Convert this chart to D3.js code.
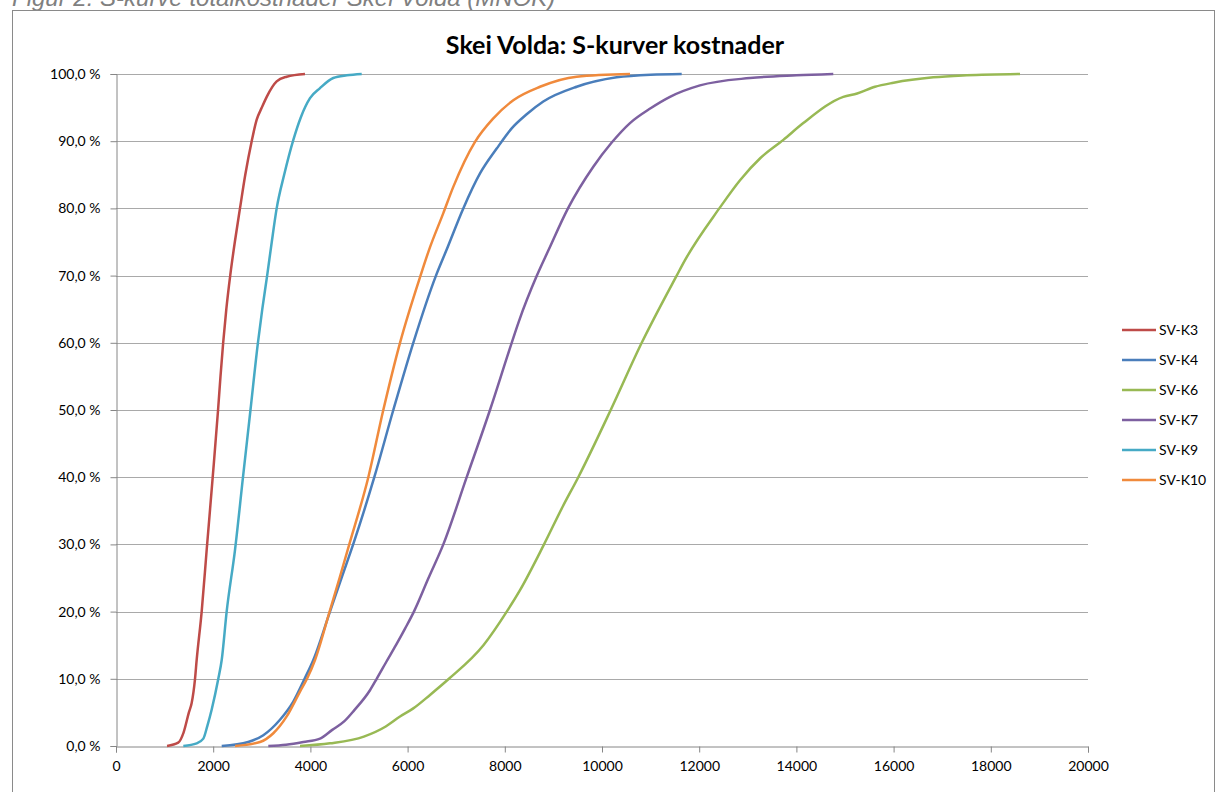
<!DOCTYPE html>
<html>
<head>
<meta charset="utf-8">
<script src="https://cdn.jsdelivr.net/npm/d3@7"></script>
<style>
  body { margin: 0; background: #fff; }
  svg { display: block; }
</style>
</head>
<body>
<svg id="chart" width="1217" height="792"></svg>
<script>
// S-kurver: kostnad (MNOK) mot kumulativ sannsynlighet (%)
var seriesNames = ["SV-K3", "SV-K4", "SV-K6", "SV-K7", "SV-K9", "SV-K10"];
var seriesColors = ["#BE4B48", "#4A7EBB", "#98B954", "#7D60A0", "#46AAC5", "#F08A3C"];

var svK3 = [[1050,0],[1280,0.5],[1390,2],[1500,5],[1557,6.4],[1626,10],[1660,12.8],[1763,20],[1866,29.2],
  [1990,40],[2100,50],[2150,55],[2205,60],[2270,65],[2350,70],[2445,75],[2551,80],[2660,85],[2792,90],
  [2895,93.2],[3000,95],[3101,96.6],[3306,98.9],[3512,99.6],[3889,100]];
var svK4 = [[2175,0],[2720,0.6],[3031,1.6],[3374,3.9],[3648,6.6],[3880,10],[4060,12.8],[4403,20],[4640,25],
  [4880,30],[5315,40],[5706,50],[6117,60],[6584,70],[6800,73.8],[7146,80],[7490,85.2],[7833,88.9],[8142,91.9],
  [8450,94],[8792,95.9],[9479,98.1],[10302,99.5],[11000,99.9],[11640,100]];
var svK6 = [[3786,0],[4403,0.4],[5100,1.4],[5550,2.9],[5844,4.4],[6117,5.6],[6461,7.6],[6850,10],[7560,15],
  [8040,20],[8313,23.2],[8807,30],[9190,35.6],[9512,40],[10179,50],[10817,60],[11537,70],[11708,72.3],
  [12414,80],[12840,84.2],[13260,87.5],[13731,90.2],[14142,92.7],[14965,96.6],[15250,97.1],[15617,98.1],
  [16000,98.7],[16817,99.5],[17500,99.8],[18601,100]];
var svK7 = [[3134,0],[3500,0.2],[3854,0.6],[4198,1.1],[4450,2.4],[4700,3.7],[4900,5.3],[5226,8.3],[5364,10],
  [5560,12.5],[5760,15],[5950,17.5],[6130,20],[6430,25],[6735,30],[7216,40],[7695,50],[8142,60],
  [8290,63.2],[8660,70],[8900,73.8],[9300,80],[9821,86.2],[10200,89.8],[10576,92.7],[11000,94.9],
  [11399,96.6],[12016,98.3],[13045,99.4],[14000,99.8],[14759,100]];
var svK9 = [[1385,0],[1660,0.4],[1797,1.1],[1880,3],[1968,5.4],[2105,10],[2175,12.8],[2277,20],[2449,29.2],
  [2613,40],[2767,50],[2920,60],[3010,65],[3110,70],[3205,75],[3306,80],[3460,85],[3649,90.2],[3800,93.5],
  [3992,96.4],[4198,97.9],[4471,99.4],[4750,99.8],[5056,100]];
var svK10 = [[2449,0],[2963,0.6],[3237,1.9],[3512,4.4],[3786,8.1],[3930,10],[4095,12.8],[4403,20.2],[4600,25],
  [4800,30],[5192,40],[5500,50],[5844,60],[6266,70],[6440,73.8],[6735,79.3],[6940,83.2],[7387,89.9],
  [7764,93.4],[8175,96.1],[8724,98.1],[9479,99.6],[10576,100]];

var seriesValues = [svK3, svK4, svK6, svK7, svK9, svK10];
var xTicks = [0, 2000, 4000, 6000, 8000, 10000, 12000, 14000, 16000, 18000, 20000];
var yTicks = [0, 10, 20, 30, 40, 50, 60, 70, 80, 90, 100];

(function drawChart() {

    var svg = d3.select("#chart"),
        plotLeft = 116,
        plotRight = 1088,
        plotTop = 74,
        plotBottom = 746,
        x,
        y,
        yAxis,
        xAxis,
        line,
        legend;

    x = d3.scaleLinear().domain([0, 20000]).range([plotLeft, plotRight]);
    y = d3.scaleLinear().domain([0, 100]).range([plotBottom, plotTop]);

    // figure caption, cut at the top of the page
    svg.append("text")
        .attr("x", 12)
        .attr("y", 6)
        .attr("font-family", "Liberation Sans, Arial, sans-serif")
        .attr("font-style", "italic")
        .attr("font-size", 24)
        .attr("fill", "#808080")
        .text("Figur 2: S-kurve totalkostnader Skei Volda (MNOK)");

    // chart frame
    svg.append("rect")
        .attr("x", 12.5)
        .attr("y", 10.5)
        .attr("width", 1202)
        .attr("height", 800)
        .attr("fill", "#fff")
        .attr("stroke", "#8a8a8a")
        .attr("stroke-width", 1);

    svg.append("text")
        .attr("x", 615)
        .attr("y", 54)
        .attr("text-anchor", "middle")
        .attr("font-family", "Lato, sans-serif")
        .attr("font-weight", "bold")
        .attr("font-size", 25)
        .attr("fill", "#000")
        .text("Skei Volda: S-kurver kostnader");

    // gridlines
    svg.append("g")
        .selectAll("line")
        .data(yTicks.filter(function(d) { return d > 0; }))
        .enter().append("line")
        .attr("x1", plotLeft)
        .attr("x2", plotRight)
        .attr("y1", function(d) { return Math.round(y(d)) + 0.5; })
        .attr("y2", function(d) { return Math.round(y(d)) + 0.5; })
        .attr("stroke", "#a9a9a9")
        .attr("stroke-width", 1);

    yAxis = svg.append("g")
        .attr("transform", "translate(" + (plotLeft + 0.5) + ",0)")
        .call(d3.axisLeft(y).tickValues(yTicks).tickSize(6).tickPadding(10)
            .tickFormat(function(d) { return d3.format(".1f")(d).replace(".", ",") + " %"; }));

    xAxis = svg.append("g")
        .attr("transform", "translate(0," + (plotBottom + 0.5) + ")")
        .call(d3.axisBottom(x).tickValues(xTicks).tickSize(6).tickPadding(9)
            .tickFormat(function(d) { return d; }));

    [yAxis, xAxis].forEach(function(ax) {
        ax.select(".domain").attr("stroke", "#868686");
        ax.selectAll(".tick line").attr("stroke", "#868686");
        ax.selectAll(".tick text")
            .attr("font-family", "Lato, sans-serif")
            .attr("font-size", 14)
            .attr("fill", "#000");
    });

    line = d3.line()
        .x(function(d) { return x(d[0]); })
        .y(function(d) { return y(d[1]); })
        .curve(d3.curveMonotoneX);

    svg.append("g")
        .selectAll("path")
        .data(seriesValues)
        .enter().append("path")
        .attr("d", line)
        .attr("fill", "none")
        .attr("stroke", function(d, i) { return seriesColors[i]; })
        .attr("stroke-width", 2.5)
        .attr("stroke-linejoin", "round");

    // legend
    legend = svg.append("g")
        .selectAll("g")
        .data(seriesNames)
        .enter().append("g")
        .attr("transform", function(d, i) { return "translate(1122," + (330 + i * 30) + ")"; });

    legend.append("line")
        .attr("x1", 0)
        .attr("x2", 34)
        .attr("stroke", function(d, i) { return seriesColors[i]; })
        .attr("stroke-width", 2.5);

    legend.append("text")
        .attr("x", 37)
        .attr("dy", "0.35em")
        .attr("font-family", "Lato, sans-serif")
        .attr("font-size", 14)
        .attr("fill", "#000")
        .text(function(d) { return d; });

})();
</script>
</body>
</html>
